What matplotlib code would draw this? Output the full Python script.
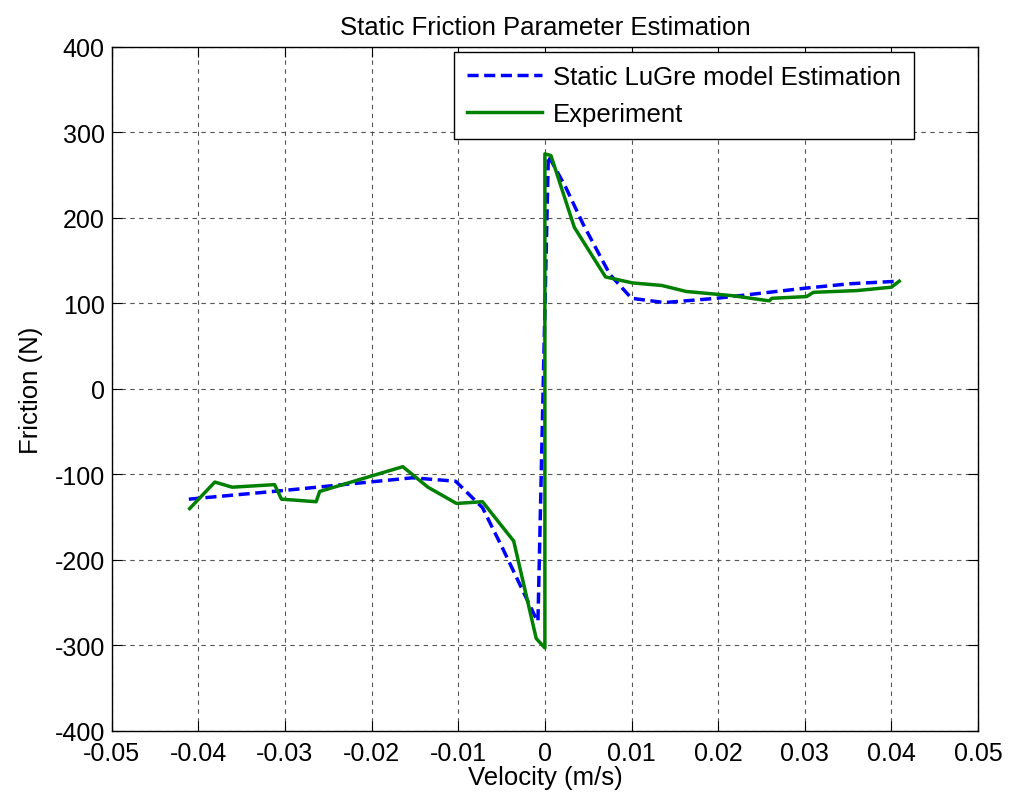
import numpy as np
import matplotlib
matplotlib.use('Agg')
import matplotlib.pyplot as plt

plt.rcParams['font.family'] = ['Liberation Sans', 'DejaVu Sans']
plt.rcParams['axes.unicode_minus'] = False

# Static LuGre model estimation (velocity m/s, friction N)
model_v = [-0.0411, -0.0303, -0.0153, -0.0103, -0.0072, -0.0049, -0.0010, -0.0008,
           0.0004, 0.0024, 0.0044, 0.0075, 0.0100, 0.0138, 0.0198, 0.0302, 0.0352, 0.0408]
model_f = [-129, -119, -104, -108, -139, -186, -269, -272,
           273, 236, 193, 134, 106, 101, 106, 118, 123, 126]

# Experiment data
exp_v = [-0.0410, -0.0381, -0.0361, -0.0312, -0.0304, -0.0264, -0.0260, -0.0164, -0.0135,
         -0.0102, -0.0072, -0.0036, -0.0010, 0.0000, 0.0000, 0.0007, 0.0034, 0.0070, 0.0101,
         0.0135, 0.0163, 0.0217, 0.0259, 0.0262, 0.0302, 0.0310, 0.0360, 0.0400, 0.0409]
exp_f = [-140, -109, -115, -112, -129, -132, -120, -91, -115,
         -134, -132, -178, -292, -303, 275, 273, 189, 131, 124,
         121, 114, 109, 103, 106, 108, 113, 115, 119, 126]

x_labels = ['-0.05', '-0.04', '-0.03', '-0.02', '-0.01', '0',
            '0.01', '0.02', '0.03', '0.04', '0.05']

fig = plt.figure(figsize=(10.11, 8.04), dpi=100)
ax = fig.add_axes([0.1105, 0.0898, 0.8569, 0.8505])

ax.plot(model_v, model_f, color='#0000ff', lw=2.5, linestyle=(0, (3.2, 1.6)),
        label='Static LuGre model Estimation', zorder=3)
ax.plot(exp_v, exp_f, color='#008000', lw=2.5, label='Experiment', zorder=4)

ax.set_xlim(-0.05, 0.05)
ax.set_ylim(-400, 400)
ax.set_xticks(np.linspace(-0.05, 0.05, 11))
ax.set_xticklabels(x_labels)
ax.set_yticks(np.arange(-400, 401, 100))
ax.tick_params(direction='in', top=True, right=True, labelsize=18, length=7, width=0.8)
ax.tick_params(axis='x', pad=7)
ax.tick_params(axis='y', pad=5)
ax.grid(True, color='#444444', linestyle=(0, (4, 4)), linewidth=0.8, alpha=0.9)
for s in ax.spines.values():
    s.set_linewidth(1.0)

ax.set_xlabel('Velocity (m/s)', fontsize=18.5, labelpad=0)
ax.set_ylabel('Friction (N)', fontsize=18.5, labelpad=8)
ax.set_title('Static Friction Parameter Estimation', fontsize=18.5, pad=9)

leg = ax.legend(loc='upper right', bbox_to_anchor=(0.926, 0.992), borderaxespad=0,
                fontsize=18.5, fancybox=False, edgecolor='black', framealpha=1,
                handlelength=2.9, borderpad=0.5, labelspacing=0.5, handletextpad=0.45)
leg.get_frame().set_linewidth(1.0)

fig.savefig('out.png', dpi=100, facecolor='white')
